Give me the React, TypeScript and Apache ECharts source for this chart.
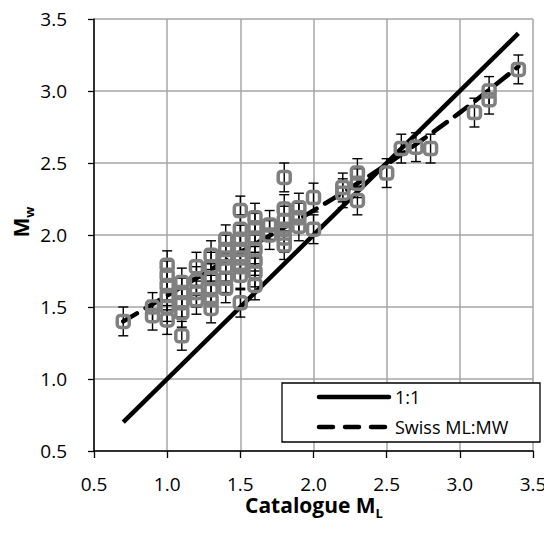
import React, { useEffect, useRef } from "react";
import * as echarts from "echarts";

// Catalogue ML (x) and Mw (y) of each event
const mlValues = [
  0.7,
  0.9, 0.9,
  1.0, 1.0, 1.0, 1.0, 1.0, 1.0,
  1.1, 1.1, 1.1, 1.1, 1.1,
  1.2, 1.2, 1.2, 1.2,
  1.3, 1.3, 1.3, 1.3, 1.3, 1.3,
  1.4, 1.4, 1.4, 1.4, 1.4, 1.4,
  1.5, 1.5, 1.5, 1.5, 1.5, 1.5, 1.5, 1.5,
  1.6, 1.6, 1.6, 1.6, 1.6, 1.6, 1.6,
  1.7, 1.7,
  1.8, 1.8, 1.8, 1.8, 1.8, 1.8,
  1.9, 1.9, 1.9,
  2.0, 2.0,
  2.2, 2.2,
  2.3, 2.3, 2.3,
  2.5,
  2.6, 2.7, 2.8,
  3.1, 3.2, 3.2, 3.4,
];
const mwValues = [
  1.40,
  1.50, 1.44,
  1.79, 1.72, 1.65, 1.58, 1.50, 1.41,
  1.67, 1.60, 1.53, 1.46, 1.30,
  1.78, 1.68, 1.60, 1.55,
  1.86, 1.78, 1.70, 1.62, 1.55, 1.49,
  1.97, 1.90, 1.84, 1.78, 1.70, 1.63,
  2.17, 2.04, 1.97, 1.90, 1.84, 1.78, 1.72, 1.53,
  2.12, 2.05, 1.98, 1.90, 1.82, 1.74, 1.65,
  2.07, 2.00,
  2.40, 2.18, 2.10, 2.04, 1.98, 1.93,
  2.19, 2.12, 2.06,
  2.26, 2.04,
  2.33, 2.29,
  2.43, 2.36, 2.24,
  2.43,
  2.60, 2.61, 2.60,
  2.85, 3.00, 2.94, 3.15,
];
const mwError = 0.1;

// 1:1 line
const oneToOneX = [0.7, 3.4];
const oneToOneY = [0.7, 3.4];

// Swiss ML:MW relation
const swissX = [0.7, 1.0, 1.5, 2.0, 2.5, 3.0, 3.4];
const swissY = [1.40, 1.58, 1.88, 2.17, 2.49, 2.85, 3.17];

const axisTicks = [0.5, 1.0, 1.5, 2.0, 2.5, 3.0, 3.5];

const FONT = "'Open Sans', 'Noto Sans', sans-serif";

export default function App() {
  const ref = useRef<HTMLDivElement>(null);

  useEffect(() => {
    if (!ref.current) return;
    const chart = echarts.init(ref.current, undefined, { renderer: "svg" });

    const points = mlValues.map((x, i) => [x, mwValues[i]]);
    const errData = mlValues.map((x, i) => [x, mwValues[i] - mwError, mwValues[i] + mwError]);

    const gridLeft = 86;
    const gridTop = 11;
    const gridW = 439;
    const gridH = 432;

    const titleRich = {
      a: { fontSize: 21, fontWeight: "bold", fontFamily: FONT, fill: "#000", lineHeight: 28, verticalAlign: "middle" },
      b: { fontSize: 13, fontWeight: "bold", fontFamily: FONT, fill: "#000", lineHeight: 28, verticalAlign: "bottom", padding: [11, 0, 0, 0] },
    };

    chart.setOption({
      animation: false,
      backgroundColor: "#fff",
      grid: { left: gridLeft, top: gridTop, width: gridW, height: gridH },
      xAxis: {
        type: "value",
        min: axisTicks[0],
        max: axisTicks[axisTicks.length - 1],
        interval: 0.5,
        axisLine: { show: true, onZero: false, lineStyle: { color: "#000", width: 1.5 } },
        axisTick: { show: true, inside: false, length: 7, lineStyle: { color: "#000", width: 1.3 } },
        axisLabel: {
          margin: 23,
          fontSize: 19,
          fontFamily: FONT,
          color: "#000",
          formatter: (v: number) => v.toFixed(1),
        },
        splitLine: { show: true, lineStyle: { color: "#a6a6a6", width: 1.5 } },
      },
      yAxis: {
        type: "value",
        min: axisTicks[0],
        max: axisTicks[axisTicks.length - 1],
        interval: 0.5,
        axisLine: { show: true, onZero: false, lineStyle: { color: "#000", width: 1.5 } },
        axisTick: { show: true, inside: false, length: 6, lineStyle: { color: "#000", width: 1.3 } },
        axisLabel: {
          margin: 27,
          fontSize: 19,
          fontFamily: FONT,
          color: "#000",
          formatter: (v: number) => v.toFixed(1),
        },
        splitLine: { show: true, lineStyle: { color: "#a6a6a6", width: 1.5 } },
      },
      series: [
        {
          name: "1:1",
          type: "line",
          data: oneToOneX.map((x, i) => [x, oneToOneY[i]]),
          symbol: "none",
          lineStyle: { color: "#000", width: 4.5 },
          z: 2,
        },
        {
          name: "Swiss ML:MW",
          type: "line",
          data: swissX.map((x, i) => [x, swissY[i]]),
          symbol: "none",
          smooth: 0.3,
          lineStyle: { color: "#000", width: 4.5, type: [16, 10], cap: "round" },
          z: 2,
        },
        {
          type: "custom",
          data: errData,
          z: 3,
          renderItem: (params: any, api: any) => {
            const x = api.value(0);
            const lo = api.coord([x, api.value(1)]);
            const hi = api.coord([x, api.value(2)]);
            const cw = 5;
            const style = { stroke: "#000", lineWidth: 1.4 };
            return {
              type: "group",
              children: [
                { type: "line", shape: { x1: lo[0], y1: lo[1], x2: hi[0], y2: hi[1] }, style },
                { type: "line", shape: { x1: lo[0] - cw, y1: lo[1], x2: lo[0] + cw, y2: lo[1] }, style },
                { type: "line", shape: { x1: hi[0] - cw, y1: hi[1], x2: hi[0] + cw, y2: hi[1] }, style },
              ],
            };
          },
        },
        {
          type: "scatter",
          data: points,
          symbol: "roundRect",
          symbolSize: 12,
          z: 4,
          itemStyle: {
            color: "rgba(255,255,255,0)",
            borderColor: "#808080",
            borderWidth: 3.5,
            opacity: 1,
          },
        },
      ],
      graphic: [
        // Legend
        {
          type: "rect",
          shape: { x: 274, y: 375, width: 258, height: 59 },
          style: { fill: "#fff", stroke: "#000", lineWidth: 1.3 },
          z: 100,
        },
        {
          type: "line",
          shape: { x1: 311, y1: 389, x2: 381, y2: 389 },
          style: { stroke: "#000", lineWidth: 4.5, lineCap: "round" },
          z: 101,
        },
        {
          type: "text",
          x: 387,
          y: 389,
          style: { text: "1:1", fontSize: 18, fontFamily: FONT, fill: "#000", verticalAlign: "middle" },
          z: 101,
        },
        {
          type: "line",
          shape: { x1: 311, y1: 419, x2: 381, y2: 419 },
          style: { stroke: "#000", lineWidth: 4.5, lineCap: "round", lineDash: [14, 12] },
          z: 101,
        },
        {
          type: "text",
          x: 387,
          y: 419,
          style: { text: "Swiss ML:MW", fontSize: 18, fontFamily: FONT, fill: "#000", verticalAlign: "middle" },
          z: 101,
        },
        // X axis title
        {
          type: "text",
          x: 306,
          y: 497,
          style: {
            text: "{a|Catalogue M}{b|L}",
            align: "center",
            verticalAlign: "middle",
            rich: titleRich,
          },
        },
        // Y axis title
        {
          type: "text",
          x: 13,
          y: 214,
          rotation: Math.PI / 2,
          style: {
            text: "{a|M}{b|w}",
            align: "center",
            verticalAlign: "middle",
            rich: titleRich,
          },
        },
      ],
    });

    return () => chart.dispose();
  }, []);

  return <div ref={ref} style={{ width: 544, height: 526 }} />;
}
